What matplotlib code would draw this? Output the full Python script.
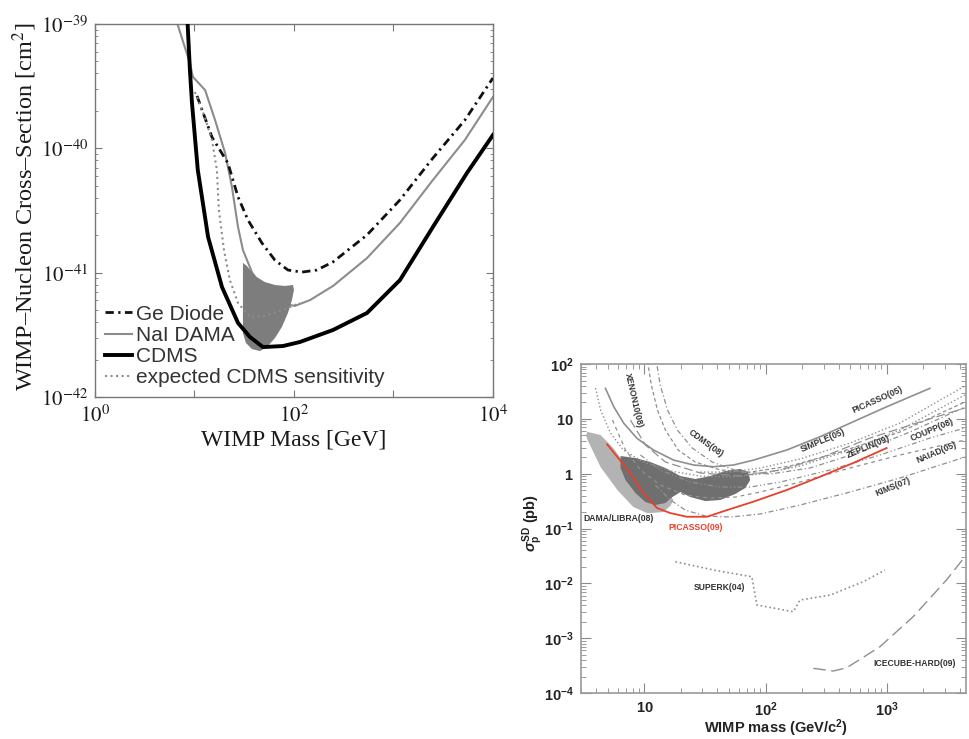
import matplotlib
matplotlib.use('Agg')
import matplotlib.pyplot as plt
import numpy as np
from matplotlib.ticker import LogLocator, NullFormatter

plt.rcParams['mathtext.fontset'] = 'stix'
plt.rcParams['mathtext.rm'] = 'Liberation Sans:bold'
plt.rcParams['mathtext.it'] = 'Liberation Sans:bold:italic'
plt.rcParams['mathtext.bf'] = 'Liberation Sans:bold'

# ---------------- left panel: WIMP-nucleon cross-section [cm^2] vs mass [GeV]
ge_mass = [10.6, 15.0, 21.7, 27.4, 34.5, 47.7, 64.4, 87.0, 120, 170, 247, 542, 1160, 2490, 5230, 10000]
ge_xsec = [2.64e-40, 1.23e-40, 7.6e-41, 4.07e-41, 2.65e-41, 1.73e-41, 1.26e-41, 1.05e-41,
           1.01e-41, 1.05e-41, 1.22e-41, 2.01e-41, 3.84e-41, 8.35e-41, 1.69e-40, 3.68e-40]

nai_mass = [6.52, 6.8, 9.0, 9.66, 12.8, 16.1, 20.3, 23.8, 27.4, 30.7, 37.8, 48.8, 72.3, 102,
            145, 247, 542, 1160, 2490, 5230, 10000]
nai_xsec = [1.3e-39, 9.8e-40, 4.85e-40, 3.75e-40, 2.94e-40, 1.69e-40, 9.2e-41, 4.9e-41, 2.33e-41,
            1.52e-41, 1.01e-41, 7.26e-42, 5.7e-42, 5.4e-42, 6.02e-42, 7.82e-42, 1.31e-41, 2.51e-41,
            5.56e-41, 1.17e-40, 2.59e-40]

cdms_mass = [8.4, 9.0, 9.44, 10.8, 13.7, 18.9, 27.4, 36.1, 48.8, 77.5, 115, 247, 542, 1160,
             2490, 5480, 10000]
cdms_xsec = [1.3e-39, 4.27e-40, 2.32e-40, 6.7e-41, 1.94e-41, 7.67e-42, 3.94e-42, 3.04e-42,
             2.52e-42, 2.57e-42, 2.77e-42, 3.46e-42, 4.74e-42, 8.7e-42, 2.33e-41, 6.34e-41, 1.28e-40]

exp_mass = [10.1, 12.5, 15.0, 16.8, 17.6, 19.8, 22.7, 27.4, 36.1, 51.1, 81.2, 115]
exp_xsec = [2.84e-40, 1.85e-40, 1.17e-40, 6.7e-41, 3.19e-41, 1.52e-41, 8.7e-42, 5.7e-42,
            4.4e-42, 4.48e-42, 5.1e-42, 5.7e-42]

dama_mass = [30.7, 33.7, 37.8, 42.5, 51.1, 64.4, 81.2, 97.7, 100, 95.5, 87.0, 75.7, 64.4,
             53.5, 45.5, 37.8, 32.9, 30.7]
dama_xsec = [1.2e-41, 1.13e-41, 1.01e-41, 9.2e-42, 8.4e-42, 7.96e-42, 7.82e-42, 7.96e-42,
             7.26e-42, 6.02e-42, 4.74e-42, 3.66e-42, 2.98e-42, 2.52e-42, 2.34e-42, 2.43e-42,
             2.72e-42, 3.27e-42]

# ---------------- right panel: sigma_p^SD [pb] vs WIMP mass [GeV/c^2]
libra_light_mass = [3.37, 4.35, 5.56, 6.35, 8.5, 12, 16.4, 17.3, 16.4, 14.3, 10.6, 8.1, 6.0, 4.35, 3.4, 3.3]
libra_light_sd = [5.8, 5.07, 2.9, 1.93, 0.9, 0.55, 0.4, 0.33, 0.26, 0.2, 0.19, 0.247, 0.5, 1.32, 4.1, 5.0]

libra_dark_mass = [6.35, 8.43, 11.2, 14.9, 19.8, 26.3, 34.9, 46.4, 61.7, 71.8, 74.5, 67.8, 56.1,
                   42.2, 31.8, 23.9, 19.8, 17.0, 14.9, 12.3, 10.2, 8.43, 6.98, 6.35]
libra_dark_sd = [2.10, 1.93, 1.63, 1.27, 0.906, 0.80, 0.906, 1.12, 1.22, 1.07, 0.766, 0.547,
                 0.426, 0.331, 0.317, 0.375, 0.463, 0.375, 0.292, 0.268, 0.304, 0.444, 0.766, 1.27]

picasso09_mass = [4.93, 5.96, 7.67, 9.8, 12.7, 16.4, 22.4, 32.8, 48.0, 78.9, 149, 281, 525, 995]
picasso09_sd = [3.43, 2.04, 1.03, 0.444, 0.237, 0.191, 0.164, 0.164, 0.217, 0.308, 0.504, 0.88, 1.56, 2.94]

picasso05_mass = [4.77, 5.59, 6.76, 8.7, 11.9, 17.4, 25.5, 37.2, 54.3, 79.4, 149, 281, 528, 995, 2260]
picasso05_sd = [36, 16.6, 8.3, 4.4, 2.7, 1.77, 1.44, 1.34, 1.44, 1.77, 2.7, 4.72, 8.87, 16.6, 36]

simple_a_mass = [3.95, 4.35, 5.25, 6.71, 9.81, 16.4, 28.9, 51.0, 90.1, 192, 496, 1280, 4390]
simple_a_sd = [36.5, 14.5, 5.5, 2.70, 1.63, 1.12, 0.906, 0.869, 0.986, 1.38, 2.70, 6.25, 27.2]
simple_b_mass = [28.9, 51.0, 90.1, 192, 496, 1280, 4390]
simple_b_sd = [1.07, 1.07, 1.27, 1.85, 3.62, 8.4, 39.7]

xenon_mass = [10.4, 11.4, 12.8, 14.9, 19.0, 26.3, 42.2, 74.5, 159, 410, 1280, 4390]
xenon_sd = [146, 41.4, 14.5, 6.25, 2.70, 1.63, 1.17, 1.07, 1.38, 2.48, 5.75, 20.3]

cdms08_mass = [12.3, 13.5, 15.5, 18.7, 24.8, 36.3, 61.7, 109, 232, 600, 1545, 4390]
cdms08_sd = [146, 41.4, 14.5, 6.25, 2.94, 1.63, 1.07, 0.986, 1.27, 2.48, 5.75, 16.4]

zeplin_mass = [7.67, 10.2, 14.9, 28.9, 61.7, 132, 281, 725, 1870, 4390]
zeplin_sd = [9.5, 3.33, 1.63, 1.03, 0.906, 1.17, 1.93, 4.47, 8.75, 15.8]

coupp_mass = [9.27, 13.5, 23.9, 42.2, 74.5, 132, 340, 875, 2260, 4390]
coupp_sd = [2.19, 1.17, 0.704, 0.571, 0.571, 0.704, 1.17, 2.19, 4.47, 6.8]

naiad_mass = [5.45, 6.98, 9.27, 13.5, 21.7, 34.9, 56.1, 90.1, 192, 496, 1280, 4390]
naiad_sd = [9.5, 2.70, 1.17, 0.621, 0.408, 0.360, 0.375, 0.463, 0.704, 1.27, 2.19, 4.11]

kims_mass = [12.3, 16.4, 21.7, 31.8, 51.0, 90.1, 192, 496, 1280, 4390]
kims_sd = [0.621, 0.331, 0.217, 0.169, 0.162, 0.184, 0.268, 0.463, 0.834, 2.01]

superk_mass = [18.0, 37.2, 76.9, 84.6, 169, 192, 340, 638, 963]
superk_sd = [0.0248, 0.0175, 0.0132, 0.00403, 0.00304, 0.00497, 0.00612, 0.0107, 0.0175]

icecube_mass = [247, 361, 466, 875, 1644, 3097, 4645]
icecube_sd = [2.82e-4, 2.52e-4, 2.89e-4, 6.98e-4, 2.46e-3, 0.0115, 0.0357]

fig = plt.figure(figsize=(9.7, 7.39), dpi=100)

# ================= left panel =================
ax1 = fig.add_axes([0.0979, 0.4628, 0.4103, 0.5047])
ax1.set_xscale('log')
ax1.set_yscale('log')
ax1.fill(dama_mass, dama_xsec, color='#7d7d7d', lw=0, zorder=2)
ax1.plot(ge_mass, ge_xsec, color='#111111', lw=2, dashes=(3, 1.6, 0.8, 1.6), label='Ge Diode', zorder=3)
ax1.plot(nai_mass, nai_xsec, color='#8c8c8c', lw=1.5, label='NaI DAMA', zorder=1)
ax1.plot(cdms_mass, cdms_xsec, color='black', lw=2.8, label='CDMS', zorder=4)
ax1.plot(exp_mass, exp_xsec, color='#8c8c8c', lw=1.5, ls=':', label='expected CDMS sensitivity', zorder=3)
ax1.set_xlim(1, 1e4)
ax1.set_ylim(1e-42, 1e-39)

ax1.set_xticks([1, 10, 100, 1000, 10000], labels=['$10^{0}$', '', '$10^{2}$', '', '$10^{4}$'])
ax1.set_yticks([1e-42, 1e-41, 1e-40, 1e-39],
               labels=['$10^{-42}$', '$10^{-41}$', '$10^{-40}$', '$10^{-39}$'])
ax1.xaxis.set_minor_locator(plt.NullLocator())
ax1.yaxis.set_minor_locator(LogLocator(base=10, subs=np.arange(2, 10)))
ax1.yaxis.set_minor_formatter(NullFormatter())
ax1.tick_params(which='both', direction='in', top=True, right=True, color='#777777',
                labelsize=15, labelcolor='#1a1a1a')
ax1.tick_params(which='major', length=5, pad=5)
ax1.tick_params(which='minor', length=2.5)
for s in ax1.spines.values():
    s.set_color('#777777')
    s.set_linewidth(1.0)

ax1.set_xlabel('WIMP Mass [GeV]', fontsize=17, family='Liberation Serif', color='#1a1a1a')
ax1.set_ylabel('WIMP–Nucleon Cross–Section [cm$^2$]', fontsize=17.5, family='Liberation Serif',
               color='#1a1a1a')
ax1.xaxis.set_label_coords(0.5, -0.088)
ax1.yaxis.set_label_coords(-0.14, 0.51)

ax1.legend(loc='lower left', bbox_to_anchor=(0.0, 0.0), frameon=False,
           prop={'family': 'Liberation Sans', 'size': 15}, labelcolor='#333333',
           handlelength=1.3, handletextpad=0.2, labelspacing=0.1, borderpad=0.2,
           borderaxespad=0.28)

# ================= right panel =================
ax2 = fig.add_axes([0.599, 0.0622, 0.397, 0.4452])
ax2.set_xscale('log')
ax2.set_yscale('log')
ax2.fill(libra_light_mass, libra_light_sd, color='#b3b3b3', lw=0, zorder=1)
ax2.fill(libra_dark_mass, libra_dark_sd, color='#6f6f6f', lw=0, zorder=1.5)

gray = '#8f8f8f'
ax2.plot(picasso05_mass, picasso05_sd, color=gray, lw=1.2, zorder=2)
ax2.plot(simple_a_mass, simple_a_sd, color=gray, lw=1.0, ls=':', zorder=2)
ax2.plot(simple_b_mass, simple_b_sd, color=gray, lw=1.0, ls=':', zorder=2)
ax2.plot(xenon_mass, xenon_sd, color=gray, lw=0.9, dashes=(3, 2), zorder=2)
ax2.plot(cdms08_mass, cdms08_sd, color=gray, lw=0.9, dashes=(4, 2, 1, 2), zorder=2)
ax2.plot(zeplin_mass, zeplin_sd, color=gray, lw=0.9, dashes=(7, 3), zorder=2)
ax2.plot(coupp_mass, coupp_sd, color=gray, lw=0.9, dashes=(4, 2, 1, 2, 1, 2), zorder=2)
ax2.plot(naiad_mass, naiad_sd, color=gray, lw=0.9, dashes=(3, 3), zorder=2)
ax2.plot(kims_mass, kims_sd, color=gray, lw=0.9, dashes=(4, 2, 1, 2), zorder=2)
ax2.plot(superk_mass, superk_sd, color=gray, lw=1.2, ls=':', zorder=2)
ax2.plot(icecube_mass, icecube_sd, color=gray, lw=1.0, dashes=(9, 4), zorder=2)
ax2.plot(picasso09_mass, picasso09_sd, color='#e8402c', lw=1.3, zorder=3)

ax2.set_xlim(3, 4500)
ax2.set_ylim(1e-4, 1e2)

lab = dict(fontsize=6.2, fontweight='bold', color='#333333', family='Liberation Sans',
           ha='center', va='center', zorder=5)
ax2.text(3.15, 0.155, 'DAMA/LIBRA(08)', **{**lab, 'ha': 'left'})
ax2.text(15.8, 0.106, 'PICASSO(09)', **{**lab, 'ha': 'left', 'color': '#e8402c'})
ax2.text(25.3, 0.00857, 'SUPERK(04)', **{**lab, 'ha': 'left'})
ax2.text(767, 3.5e-4, 'ICECUBE-HARD(09)', **{**lab, 'ha': 'left'})
ax2.text(8.1, 22, 'XENON10(08)', rotation=-77, **lab)
ax2.text(31.8, 3.6, 'CDMS(08)', rotation=-36, **lab)
ax2.text(828, 22, 'PICASSO(05)', rotation=24, **lab)
ax2.text(297, 4.1, 'SIMPLE(05)', rotation=23, **lab)
ax2.text(698, 3.06, 'ZEPLIN(09)', rotation=23, **lab)
ax2.text(2345, 6.25, 'COUPP(08)', rotation=23, **lab)
ax2.text(2580, 2.48, 'NAIAD(05)', rotation=23, **lab)
ax2.text(1120, 0.57, 'KIMS(07)', rotation=22, **lab)

ax2.set_xticks([10, 100, 1000], labels=[r'$\mathrm{10}$', r'$\mathrm{10^{2}}$', r'$\mathrm{10^{3}}$'])
ax2.set_yticks([1e-4, 1e-3, 1e-2, 1e-1, 1, 10, 100],
               labels=[r'$\mathrm{10^{-4}}$', r'$\mathrm{10^{-3}}$', r'$\mathrm{10^{-2}}$',
                       r'$\mathrm{10^{-1}}$', r'$\mathrm{1}$', r'$\mathrm{10}$', r'$\mathrm{10^{2}}$'])
ax2.xaxis.set_minor_locator(LogLocator(base=10, subs=np.arange(2, 10)))
ax2.yaxis.set_minor_locator(LogLocator(base=10, subs=np.arange(2, 10)))
ax2.xaxis.set_minor_formatter(NullFormatter())
ax2.yaxis.set_minor_formatter(NullFormatter())
ax2.tick_params(which='both', direction='in', top=True, right=True, color='#8a8a8a',
                labelsize=10.5, labelcolor='#222222')
ax2.tick_params(which='major', length=7, pad=5)
ax2.tick_params(which='minor', length=3.5)
for t in ax2.get_xticklabels() + ax2.get_yticklabels():
    t.set_math_fontfamily('custom')
for s in ax2.spines.values():
    s.set_color('#9a9a9a')
    s.set_linewidth(1.2)

ax2.set_xlabel(r'WIMP mass (GeV/c$^{\mathrm{2}}$)', fontsize=10.5, fontweight='bold',
               family='Liberation Sans', color='#222222', math_fontfamily='custom')
ax2.set_ylabel(r'$\sigma_{\mathrm{p}}^{\mathrm{SD}}$ (pb)', fontsize=10.5, fontweight='bold',
               family='Liberation Sans', color='#222222', math_fontfamily='custom')
ax2.xaxis.set_label_coords(0.506, -0.075)
ax2.yaxis.set_label_coords(-0.094, 0.517)

fig.savefig('out.png', dpi=100, facecolor='white')
